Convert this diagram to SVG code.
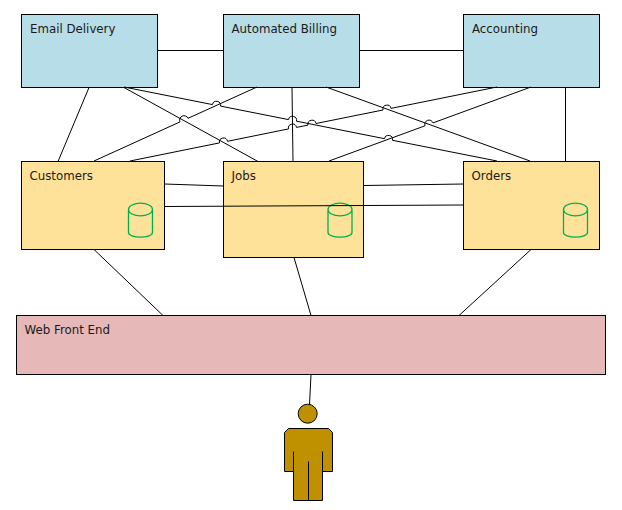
<svg xmlns="http://www.w3.org/2000/svg" width="622" height="510" viewBox="0 0 622 510">
<style>
.box{stroke:#000;stroke-width:1}
.blue{fill:#B7DDE8}
.yellow{fill:#FEE299}
.pink{fill:#E6B8B7}
.lbl{font-family:"DejaVu Sans",sans-serif;font-size:11.8px;fill:#1a1a1a}
.cyl{fill:none;stroke:#00B050;stroke-width:1.3}
.person{fill:#BF9000;stroke:#000;stroke-width:1}
#connectors path{fill:none;stroke:#000;stroke-width:1}
</style>
<rect width="622" height="510" fill="#fff"/>
<defs>
<path id="cyl" class="cyl" d="M0 6.5A12 6.3 0 0 1 24 6.5V29.5A12 4.7 0 0 1 0 29.5ZM0 6.5A12 6.3 0 0 0 24 6.5"/>
</defs>
<g id="email-delivery"><rect class="box blue" x="21.5" y="14.5" width="136" height="73"/><text class="lbl" x="30" y="33">Email Delivery</text></g>
<g id="automated-billing"><rect class="box blue" x="223.5" y="14.5" width="136" height="73"/><text class="lbl" x="231.5" y="33">Automated Billing</text></g>
<g id="accounting"><rect class="box blue" x="463.5" y="14.5" width="136" height="73"/><text class="lbl" x="472" y="33">Accounting</text></g>
<g id="customers"><rect class="box yellow" x="21.5" y="161.5" width="143" height="88"/><text class="lbl" x="29.5" y="180">Customers</text><use href="#cyl" x="128.5" y="203"/></g>
<g id="jobs"><rect class="box yellow" x="223.5" y="161.5" width="140" height="96"/><text class="lbl" x="231.5" y="180">Jobs</text><use href="#cyl" x="328" y="203"/></g>
<g id="orders"><rect class="box yellow" x="463.5" y="161.5" width="136" height="88"/><text class="lbl" x="471.5" y="180">Orders</text><use href="#cyl" x="563.5" y="203"/></g>
<g id="web-front-end"><rect class="box pink" x="16.5" y="315.5" width="589" height="59"/><text class="lbl" x="24.5" y="334">Web Front End</text></g>
<g id="person">
<circle class="person" cx="307.7" cy="413.7" r="9.5"/>
<path class="person" d="M288.5 428.5H328.5L332.5 432.5V471.5H322.5V500.5H293.5V471.5H284.5V432.5Z"/>
<path class="person" d="M293.5 451.5V471.5M322.5 451.5V471.5M308.5 461.5V500.5"/>
</g>
<g id="connectors">
<path d="M157.5 50.5H223.5"/>
<path d="M359.5 50.5H463.5"/>
<path d="M89 87.5L58 161.5"/>
<path d="M124 87.5L258 161.5"/>
<path d="M124 87L212.5 104.6A4 4 0 0 1 220.5 106.1L288.5 119.6A4 4 0 0 1 296.5 121.2L384.5 138.7A4 4 0 0 1 392.5 140.3L497 161"/>
<path d="M94 161L180 121.9A4 4 0 0 1 188 118.3L257 87"/>
<path d="M130 161L219.5 142.9A4 4 0 0 1 227.5 141.3L288.5 128.9A4 4 0 0 1 296.5 127.4L308 125.1A4 4 0 0 1 316 123.5L383 110A4 4 0 0 1 391 108.4L497 87"/>
<path d="M292 87.5L293 161.5"/>
<path d="M326 87L530 161"/>
<path d="M329 161L425 125.8A4 4 0 0 1 433 122.9L531 87"/>
<path d="M565.5 87.5V161.5"/>
<path d="M164.5 184L223.5 186"/>
<path d="M363.5 185.5L463.5 184"/>
<path d="M164.5 206.5L463.5 205"/>
<path d="M94 249.5L163 315.5"/>
<path d="M294 257.5L311 315.5"/>
<path d="M531 249.5L459 315.5"/>
<path d="M311 374.5L309.5 404.5"/>
</g>
</svg>
